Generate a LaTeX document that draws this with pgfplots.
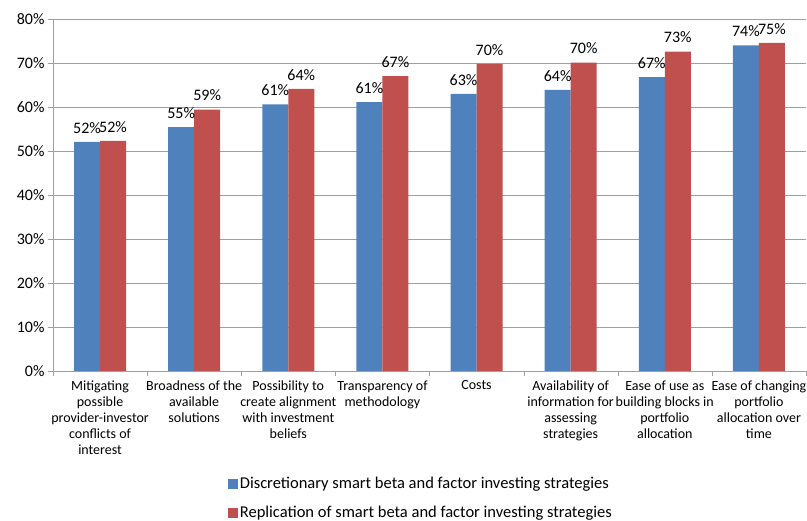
\documentclass[border=0pt]{standalone}
\usepackage{pgfplots}
\pgfplotsset{compat=1.18}
\usepackage{fontspec}
\setmainfont{Carlito}
\definecolor{exblue}{HTML}{4F81BD}
\definecolor{exred}{HTML}{C0504D}
\definecolor{gridgray}{HTML}{A0A0A0}
\begin{document}
\begin{tikzpicture}
\useasboundingbox (-53pt,-150pt) rectangle (754pt,371pt);
\begin{axis}[
    scale only axis,
    width=753pt, height=352pt,
    ybar=0pt, bar width=26pt,
    xmin=-0.5, xmax=7.5,
    ymin=0, ymax=80,
    ytick={0,10,...,80},
    yticklabel={\pgfmathprintnumber{\tick}\%},
    /pgf/number format/assume math mode=true,
    xtick={0,...,7},
    xticklabels={
      {Mitigating\\possible\\provider-investor\\conflicts of\\interest},
      {Broadness of the\\available\\solutions},
      {Possibility to\\create alignment\\with investment\\beliefs},
      {Transparency of\\methodology},
      {Costs},
      {Availability of\\information for\\assessing\\strategies},
      {Ease of use as\\building blocks in\\portfolio\\allocation},
      {Ease of changing\\portfolio\\allocation over\\time}},
    xticklabel style={align=center, font=\fontsize{14}{16}\selectfont, yshift=-1pt},
    yticklabel style={font=\fontsize{16}{18}\selectfont},
    major x tick style={draw=none},
    minor xtick={-0.5,0.5,...,7.5},
    minor tick length=5pt,
    major tick length=5pt,
    tick align=outside,
    tick pos=lower,
    tick style={gridgray},
    axis x line*=bottom,
    axis y line*=left,
    axis line style={gridgray},
    ymajorgrids=true,
    grid style={gridgray, line width=0.8pt},
    nodes near coords={\pgfmathprintnumber[fixed,precision=0]{\pgfplotspointmeta}\%},
    nodes near coords style={font=\fontsize{16}{18}\selectfont, black, yshift=5pt},
    every axis plot/.append style={draw=none},
    legend style={at={(0.228,-0.29)}, anchor=north west, draw=none,
      font=\fontsize{16.5}{19}\selectfont, row sep=12pt, cells={anchor=west}},
    legend image code/.code={\fill[#1] (0pt,-5pt) rectangle (10pt,5pt);},
]
\addplot[fill=exblue] coordinates {
(0,52.1) (1,55.4) (2,60.6) (3,61.1) (4,63.0) (5,63.9) (6,66.8) (7,74.0)
};
\addplot[fill=exred] coordinates {
(0,52.3) (1,59.4) (2,64.1) (3,67.0) (4,69.8) (5,70.1) (6,72.6) (7,74.6)
};
\legend{Discretionary smart beta and factor investing strategies,
        Replication of smart beta and factor investing strategies}
\end{axis}
\end{tikzpicture}
\end{document}
